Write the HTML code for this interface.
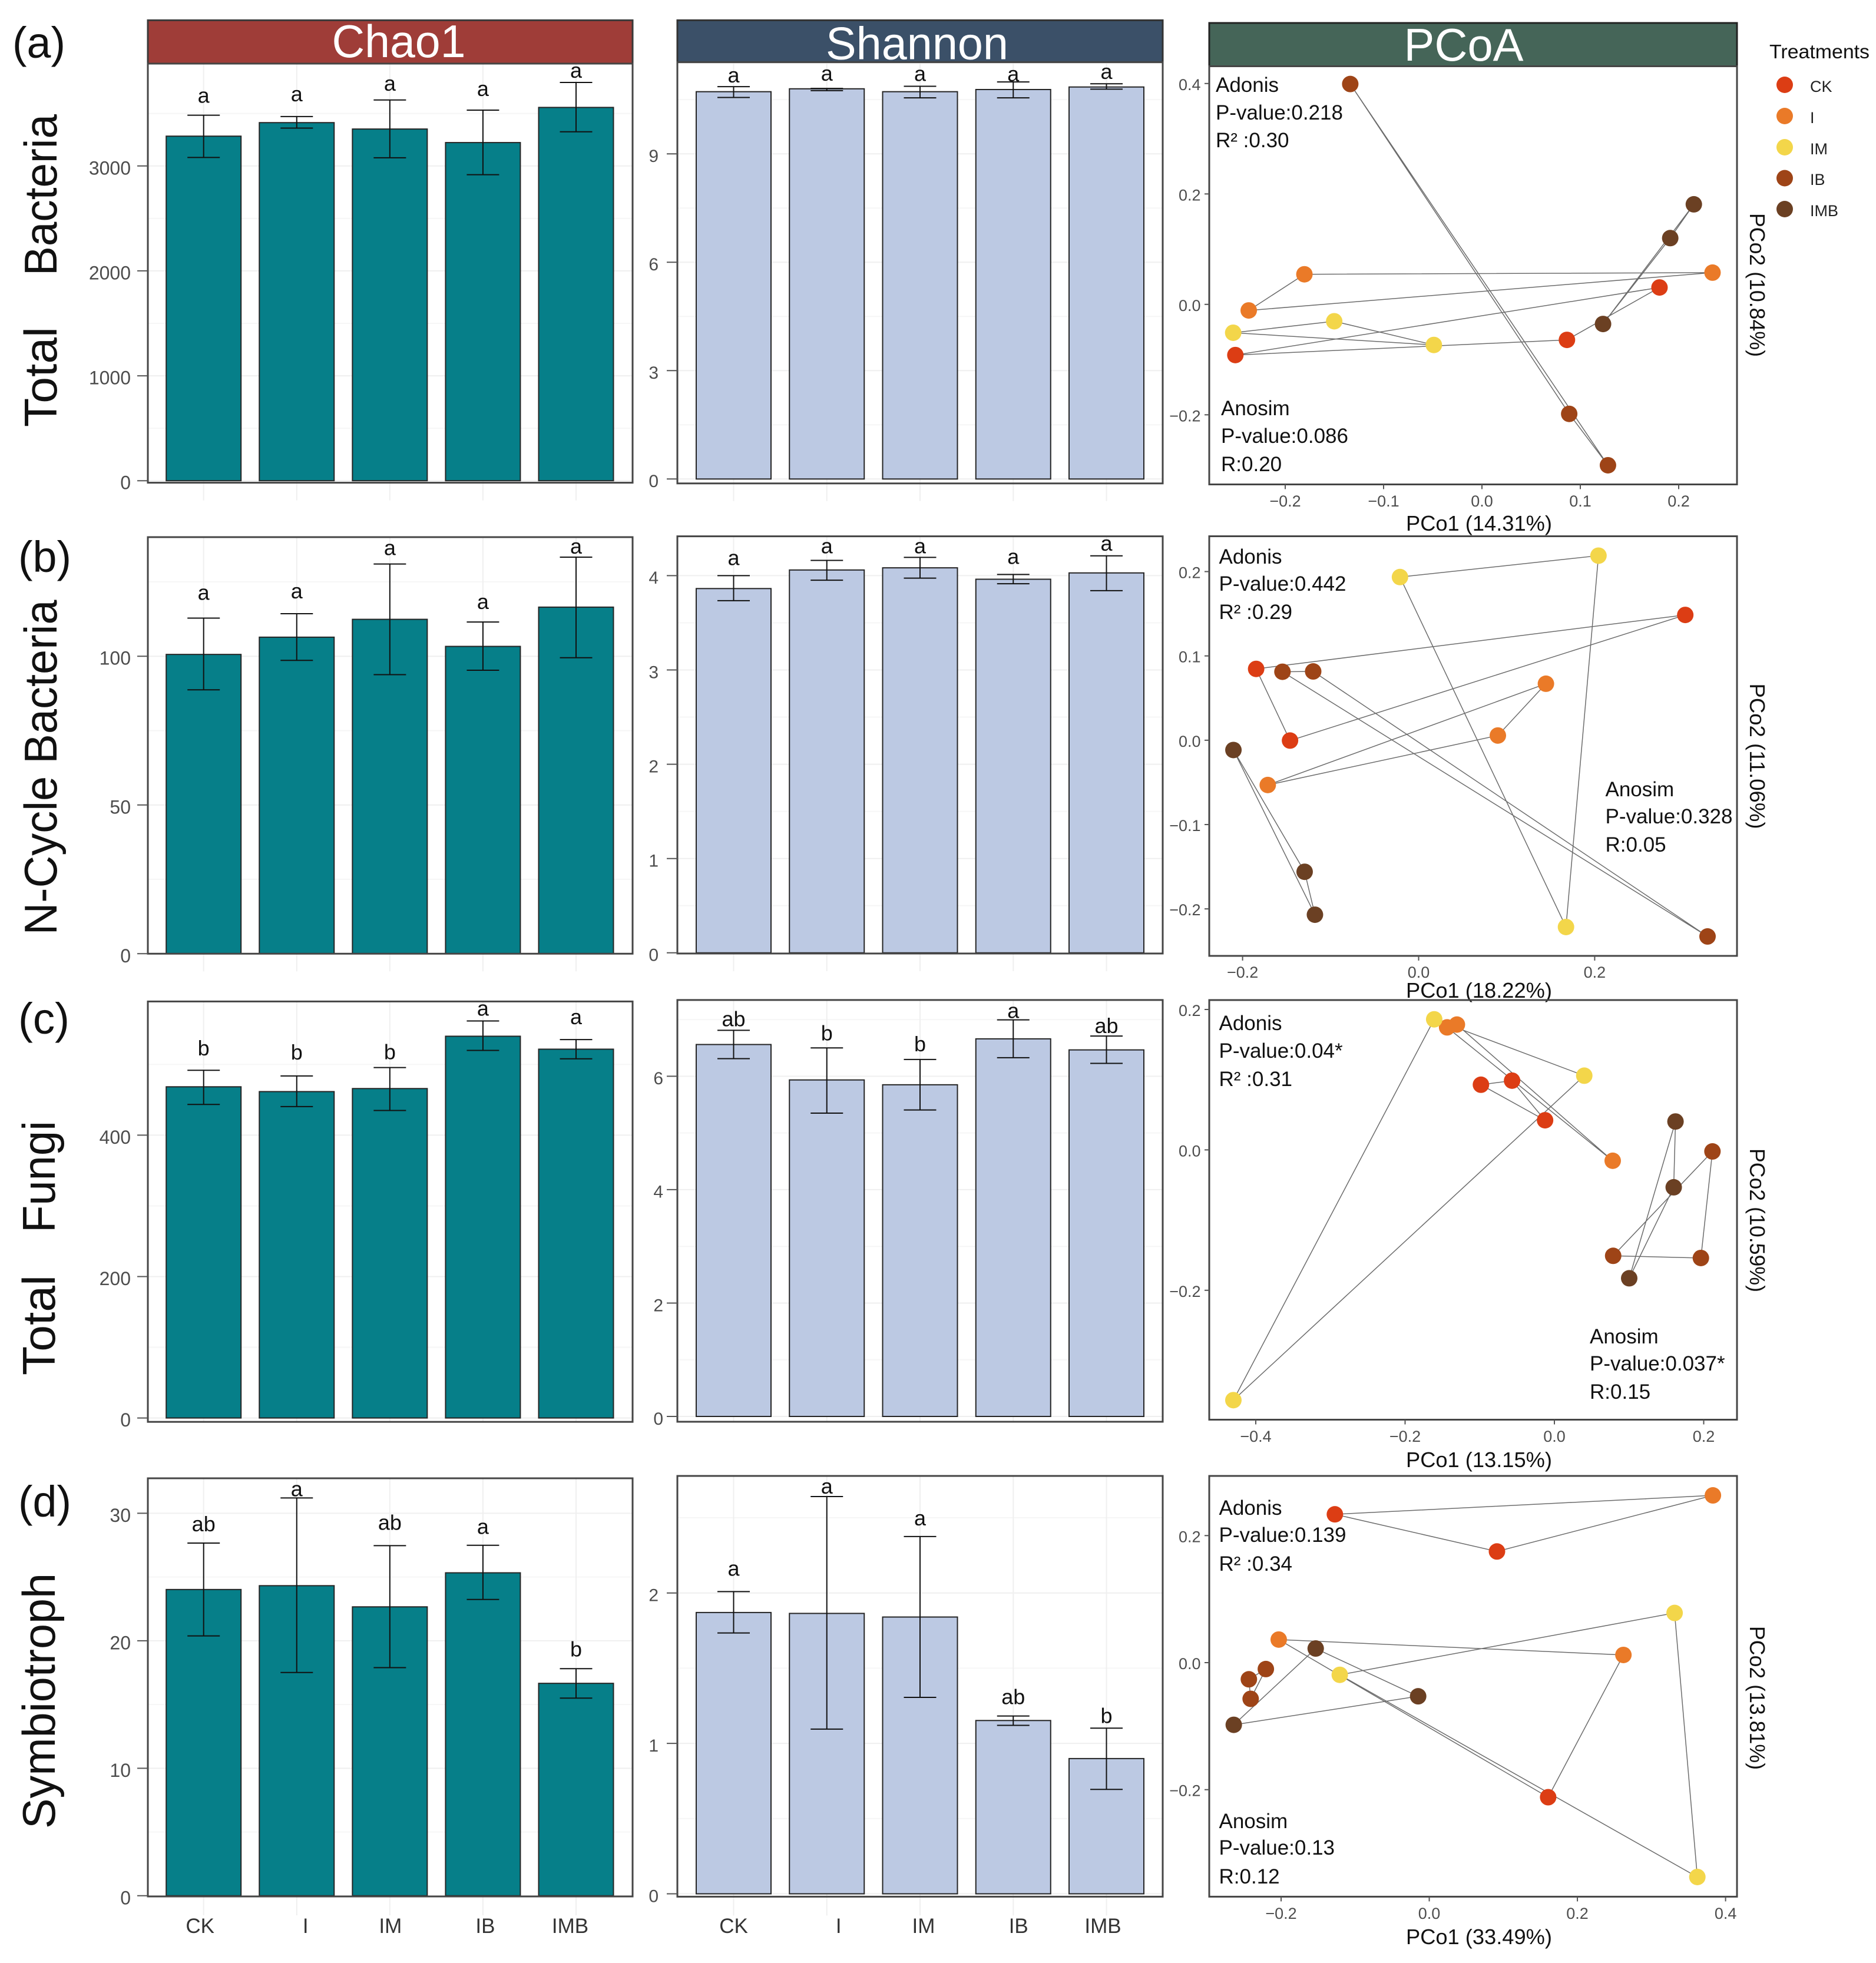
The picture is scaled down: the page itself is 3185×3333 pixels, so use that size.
<!DOCTYPE html>
<html lang="en">
<head>
<meta charset="utf-8">
<title>Chao1, Shannon and PCoA by treatment</title>
<style>
html,body{margin:0;padding:0;background:#fff;}
svg{display:block;font-family:"Liberation Sans",sans-serif;}
.row-label{font-size:78px;fill:#111;}
.tag{font-size:74px;fill:#111;}
.strip-title{font-size:78px;fill:#fff;text-anchor:middle;}
.stat{font-size:35px;fill:#111;}
.axis-title{font-size:36px;fill:#111;text-anchor:middle;}
.legend-title{font-size:33px;fill:#111;}
.legend-text{font-size:27px;fill:#222;}
</style>
</head>
<body>
<svg id="figure" xmlns="http://www.w3.org/2000/svg" width="3185" height="3333" viewBox="0 0 3185 3333">
  <rect x="0" y="0" width="3185" height="3333" fill="#ffffff"/>

  <rect x="251" y="34.4" width="823" height="73.6" fill="#9f3d38" stroke="#3a3a3a" stroke-width="3"/>
  <rect x="1150" y="34.4" width="824" height="71.2" fill="#3b5068" stroke="#333" stroke-width="3"/>
  <rect x="2053" y="39" width="896" height="73.5" fill="#456558" stroke="#222" stroke-width="3"/>
  <text class="strip-title" x="677" y="97" textLength="227" lengthAdjust="spacingAndGlyphs">Chao1</text>
  <text class="strip-title" x="1557" y="100.5" textLength="310" lengthAdjust="spacingAndGlyphs">Shannon</text>
  <text class="strip-title" x="2485" y="103" textLength="203" lengthAdjust="spacingAndGlyphs">PCoA</text>

  <text class="tag" x="21" y="98" textLength="90" lengthAdjust="spacingAndGlyphs">(a)</text>
  <text class="tag" x="31" y="971" textLength="90" lengthAdjust="spacingAndGlyphs">(b)</text>
  <text class="tag" x="31" y="1755" textLength="87" lengthAdjust="spacingAndGlyphs">(c)</text>
  <text class="tag" x="31" y="2575" textLength="90" lengthAdjust="spacingAndGlyphs">(d)</text>

  <text class="row-label" transform="translate(96 331) rotate(-90)" text-anchor="middle" textLength="274" lengthAdjust="spacingAndGlyphs">Bacteria</text>
  <text class="row-label" transform="translate(96 640) rotate(-90)" text-anchor="middle" textLength="170" lengthAdjust="spacingAndGlyphs">Total</text>
  <text class="row-label" transform="translate(96 1303) rotate(-90)" text-anchor="middle" textLength="569" lengthAdjust="spacingAndGlyphs">N-Cycle Bacteria</text>
  <text class="row-label" transform="translate(93 1998) rotate(-90)" text-anchor="middle" textLength="190" lengthAdjust="spacingAndGlyphs">Fungi</text>
  <text class="row-label" transform="translate(93 2250) rotate(-90)" text-anchor="middle" textLength="170" lengthAdjust="spacingAndGlyphs">Total</text>
  <text class="row-label" transform="translate(93 2888) rotate(-90)" text-anchor="middle" textLength="434" lengthAdjust="spacingAndGlyphs">Symbiotroph</text>

  <text class="axis-title" x="2511" y="901" textLength="248" lengthAdjust="spacingAndGlyphs">PCo1 (14.31%)</text>
  <text class="axis-title" x="2511" y="1694" textLength="248" lengthAdjust="spacingAndGlyphs">PCo1 (18.22%)</text>
  <text class="axis-title" x="2511" y="2491" textLength="248" lengthAdjust="spacingAndGlyphs">PCo1 (13.15%)</text>
  <text class="axis-title" x="2511" y="3301" textLength="248" lengthAdjust="spacingAndGlyphs">PCo1 (33.49%)</text>
  <text class="axis-title" transform="translate(2971 484) rotate(90)" textLength="244" lengthAdjust="spacingAndGlyphs">PCo2 (10.84%)</text>
  <text class="axis-title" transform="translate(2971 1284) rotate(90)" textLength="247" lengthAdjust="spacingAndGlyphs">PCo2 (11.06%)</text>
  <text class="axis-title" transform="translate(2971 2072) rotate(90)" textLength="244" lengthAdjust="spacingAndGlyphs">PCo2 (10.59%)</text>
  <text class="axis-title" transform="translate(2971 2883) rotate(90)" textLength="244" lengthAdjust="spacingAndGlyphs">PCo2 (13.81%)</text>

  <g>
    <text class="legend-title" x="3004" y="99" textLength="170" lengthAdjust="spacingAndGlyphs">Treatments</text>
    <circle cx="3030" cy="144" r="14" fill="#dc3d14"/>
    <text class="legend-text" x="3073" y="156">CK</text>
    <circle cx="3030" cy="197" r="14" fill="#ea7a28"/>
    <text class="legend-text" x="3073" y="209">I</text>
    <circle cx="3030" cy="250" r="14" fill="#f3d64a"/>
    <text class="legend-text" x="3073" y="262">IM</text>
    <circle cx="3030" cy="302.5" r="14" fill="#9e4417"/>
    <text class="legend-text" x="3073" y="314">IB</text>
    <circle cx="3030" cy="355" r="14" fill="#6b4023"/>
    <text class="legend-text" x="3073" y="367">IMB</text>
  </g>

  <g id="marks"></g>

  <g>
    <text class="stat" x="2064" y="156">Adonis</text>
    <text class="stat" x="2064" y="203">P-value:0.218</text>
    <text class="stat" x="2064" y="250">R² :0.30</text>
    <text class="stat" x="2073" y="705">Anosim</text>
    <text class="stat" x="2073" y="752">P-value:0.086</text>
    <text class="stat" x="2073" y="800">R:0.20</text>

    <text class="stat" x="2069.5" y="957">Adonis</text>
    <text class="stat" x="2069.5" y="1003">P-value:0.442</text>
    <text class="stat" x="2069.5" y="1051">R² :0.29</text>
    <text class="stat" x="2725.5" y="1352">Anosim</text>
    <text class="stat" x="2725.5" y="1398">P-value:0.328</text>
    <text class="stat" x="2725.5" y="1446">R:0.05</text>

    <text class="stat" x="2069.5" y="1749">Adonis</text>
    <text class="stat" x="2069.5" y="1796">P-value:0.04*</text>
    <text class="stat" x="2069.5" y="1844">R² :0.31</text>
    <text class="stat" x="2699" y="2281">Anosim</text>
    <text class="stat" x="2699" y="2327">P-value:0.037*</text>
    <text class="stat" x="2699" y="2375">R:0.15</text>

    <text class="stat" x="2069.5" y="2572">Adonis</text>
    <text class="stat" x="2069.5" y="2618">P-value:0.139</text>
    <text class="stat" x="2069.5" y="2667">R² :0.34</text>
    <text class="stat" x="2069.5" y="3104">Anosim</text>
    <text class="stat" x="2069.5" y="3149">P-value:0.13</text>
    <text class="stat" x="2069.5" y="3198">R:0.12</text>
  </g>
</svg>

<script>
/* ---------- shared categories ---------- */
const categories = ['CK', 'I', 'IM', 'IB', 'IMB'];

/* ---------- bar data: means, error-bar bounds, significance letters, ticks ---------- */
const bacteriaChao1Means = [3284, 3413, 3352, 3223, 3558];
const bacteriaChao1Upper = [3484, 3471, 3629, 3532, 3796];
const bacteriaChao1Lower = [3081, 3361, 3078, 2917, 3326];
const bacteriaChao1Letters = ['a', 'a', 'a', 'a', 'a'];
const bacteriaChao1Ticks = [0, 1000, 2000, 3000];

const bacteriaShannonMeans = [10.72, 10.80, 10.72, 10.78, 10.85];
const bacteriaShannonUpper = [10.86, 10.81, 10.87, 10.99, 10.94];
const bacteriaShannonLower = [10.56, 10.75, 10.55, 10.55, 10.79];
const bacteriaShannonLetters = ['a', 'a', 'a', 'a', 'a'];
const bacteriaShannonTicks = [0, 3, 6, 9];

const nCycleChao1Means = [100.6, 106.4, 112.4, 103.3, 116.5];
const nCycleChao1Upper = [112.8, 114.3, 131.0, 111.5, 133.3];
const nCycleChao1Lower = [88.7, 98.6, 93.8, 95.3, 99.5];
const nCycleChao1Letters = ['a', 'a', 'a', 'a', 'a'];
const nCycleChao1Ticks = [0, 50, 100];

const nCycleShannonMeans = [3.863, 4.06, 4.083, 3.962, 4.029];
const nCycleShannonUpper = [4.0, 4.162, 4.194, 4.013, 4.21];
const nCycleShannonLower = [3.735, 3.952, 3.974, 3.914, 3.841];
const nCycleShannonLetters = ['a', 'a', 'a', 'a', 'a'];
const nCycleShannonTicks = [0, 1, 2, 3, 4];

const fungiChao1Means = [468.4, 461.6, 465.9, 539.9, 521.6];
const fungiChao1Upper = [491.8, 483.7, 495.6, 561.5, 535.2];
const fungiChao1Lower = [443.4, 440.4, 434.9, 519.9, 508.0];
const fungiChao1Letters = ['b', 'b', 'b', 'a', 'a'];
const fungiChao1Ticks = [0, 200, 400];

const fungiShannonMeans = [6.56, 5.935, 5.85, 6.66, 6.465];
const fungiShannonUpper = [6.81, 6.50, 6.296, 6.995, 6.709];
const fungiShannonLower = [6.31, 5.35, 5.405, 6.327, 6.227];
const fungiShannonLetters = ['ab', 'b', 'b', 'a', 'ab'];
const fungiShannonTicks = [0, 2, 4, 6];

const symbioChao1Means = [24.02, 24.32, 22.66, 25.33, 16.66];
const symbioChao1Upper = [27.66, 31.2, 27.46, 27.49, 17.81];
const symbioChao1Lower = [20.38, 17.51, 17.89, 23.24, 15.5];
const symbioChao1Letters = ['ab', 'a', 'ab', 'a', 'b'];
const symbioChao1Ticks = [0, 10, 20, 30];

const symbioShannonMeans = [1.870, 1.864, 1.840, 1.152, 0.899];
const symbioShannonUpper = [2.009, 2.641, 2.375, 1.182, 1.101];
const symbioShannonLower = [1.734, 1.095, 1.306, 1.120, 0.694];
const symbioShannonLetters = ['a', 'a', 'a', 'ab', 'b'];
const symbioShannonTicks = [0, 1, 2];

/* ---------- PCoA data: three replicates per treatment ---------- */
const pcoaA_CK_pc1 = [0.0864, 0.1805, -0.2507];
const pcoaA_CK_pc2 = [-0.0643, 0.0306, -0.0918];
const pcoaA_I_pc1 = [-0.1805, 0.2344, -0.2371];
const pcoaA_I_pc2 = [0.0545, 0.0575, -0.0110];
const pcoaA_IM_pc1 = [-0.2529, -0.1502, -0.0489];
const pcoaA_IM_pc2 = [-0.0514, -0.0306, -0.0735];
const pcoaA_IB_pc1 = [-0.1339, 0.0887, 0.1281];
const pcoaA_IB_pc2 = [0.3991, -0.1983, -0.2914];
const pcoaA_IMB_pc1 = [0.2154, 0.1914, 0.1231];
const pcoaA_IMB_pc2 = [0.1812, 0.1200, -0.0355];
const pcoaAXTicks = [-0.2, -0.1, 0, 0.1, 0.2];
const pcoaAYTicks = [-0.2, 0, 0.2, 0.4];

const pcoaB_CK_pc1 = [-0.1846, 0.3029, -0.1461];
const pcoaB_CK_pc2 = [0.0846, 0.1486, -0.0004];
const pcoaB_I_pc1 = [0.1446, 0.0900, -0.1714];
const pcoaB_I_pc2 = [0.0670, 0.0056, -0.0531];
const pcoaB_IM_pc1 = [-0.0212, 0.2043, 0.1674];
const pcoaB_IM_pc2 = [0.1935, 0.2189, -0.2215];
const pcoaB_IB_pc1 = [-0.1547, -0.1198, 0.3282];
const pcoaB_IB_pc2 = [0.0812, 0.0816, -0.2327];
const pcoaB_IMB_pc1 = [-0.2104, -0.1295, -0.1178];
const pcoaB_IMB_pc2 = [-0.0116, -0.1560, -0.2069];
const pcoaBXTicks = [-0.2, 0, 0.2];
const pcoaBYTicks = [-0.2, -0.1, 0, 0.1, 0.2];

const pcoaC_CK_pc1 = [-0.0984, -0.0567, -0.0125];
const pcoaC_CK_pc2 = [0.0928, 0.0986, 0.0422];
const pcoaC_I_pc1 = [-0.1437, -0.1306, 0.0781];
const pcoaC_I_pc2 = [0.1745, 0.1785, -0.0155];
const pcoaC_IM_pc1 = [-0.1610, 0.0400, -0.4300];
const pcoaC_IM_pc2 = [0.1860, 0.1057, -0.3565];
const pcoaC_IB_pc1 = [0.0787, 0.1962, 0.2117];
const pcoaC_IB_pc2 = [-0.1509, -0.1540, -0.0022];
const pcoaC_IMB_pc1 = [0.1622, 0.1598, 0.1002];
const pcoaC_IMB_pc2 = [0.0404, -0.0533, -0.1829];
const pcoaCXTicks = [-0.4, -0.2, 0, 0.2];
const pcoaCYTicks = [-0.2, 0, 0.2];

const pcoaD_CK_pc1 = [-0.1274, 0.0914, 0.3829];
const pcoaD_CK_pc2 = [0.2335, 0.1750, 0.2633];
const pcoaD_CK_kinds = ['CK', 'CK', 'I'];
const pcoaD_I_pc1 = [-0.2032, 0.2621, 0.1605];
const pcoaD_I_pc2 = [0.0363, 0.0121, -0.2119];
const pcoaD_I_kinds = ['I', 'I', 'CK'];
const pcoaD_IM_pc1 = [0.3312, -0.1208, 0.3619];
const pcoaD_IM_pc2 = [0.0782, -0.0192, -0.3375];
const pcoaD_IB_pc1 = [-0.2206, -0.2435, -0.2411];
const pcoaD_IB_pc2 = [-0.0101, -0.0262, -0.0570];
const pcoaD_IMB_pc1 = [-0.1533, -0.0150, -0.2639];
const pcoaD_IMB_pc2 = [0.0222, -0.0530, -0.0979];
const pcoaDXTicks = [-0.2, 0, 0.2, 0.4];
const pcoaDYTicks = [-0.2, 0, 0.2];

/* ---------- styling ---------- */
const treatmentColors = { CK: '#dc3d14', I: '#ea7a28', IM: '#f3d64a', IB: '#9e4417', IMB: '#6b4023' };
const tealFill = '#067f89';
const blueFill = '#bcc9e3';
const FRAME_COLOR = '#454545';
const CAP_HALF = 27.5;
const BAR_WIDTH = 127;

/* ---------- panel layout ---------- */
const col1 = { x0: 251, x1: 1074, first: 345.7, last: 978, fill: tealFill, tickFont: 32, tickEnd: 222, tickLen: 18, nudges: { CK: -6, I: 15, IM: 1, IB: 4, IMB: -10 } };
const col2 = { x0: 1150, x1: 1974, first: 1245.5, last: 1878.5, fill: blueFill, tickFont: 30, tickEnd: 1118, tickLen: 18, nudges: { CK: 0, I: 20, IM: 6, IB: 9, IMB: -6 } };

const barPanels = [
  { name: 'bacteria-chao1', col: col1, top: 108, bottom: 819.6, p0: 816.2, v1: 3000, p1: 281.8, ext: 30, means: bacteriaChao1Means, upper: bacteriaChao1Upper, lower: bacteriaChao1Lower, letters: bacteriaChao1Letters, ticks: bacteriaChao1Ticks, gaps: [31, 36, 26, 34, 18] },
  { name: 'bacteria-shannon', col: col2, top: 105.6, bottom: 820.8, p0: 813.3, v1: 9, p1: 261.2, ext: 30, means: bacteriaShannonMeans, upper: bacteriaShannonUpper, lower: bacteriaShannonLower, letters: bacteriaShannonLetters, ticks: bacteriaShannonTicks, gaps: [17, 23, 19, 11, 18] },
  { name: 'ncycle-chao1', col: col1, top: 912, bottom: 1619.3, p0: 1619.3, v1: 100, p1: 1114.2, ext: 30, means: nCycleChao1Means, upper: nCycleChao1Upper, lower: nCycleChao1Lower, letters: nCycleChao1Letters, ticks: nCycleChao1Ticks, gaps: [41, 36, 25, 32, 16] },
  { name: 'ncycle-shannon', col: col2, top: 910.6, bottom: 1619, p0: 1617.8, v1: 4, p1: 977.4, ext: 30, means: nCycleShannonMeans, upper: nCycleShannonUpper, lower: nCycleShannonLower, letters: nCycleShannonLetters, ticks: nCycleShannonTicks, gaps: [28, 22, 17, 28, 19] },
  { name: 'fungi-chao1', col: col1, top: 1700.4, bottom: 2414.2, p0: 2407.6, v1: 400, p1: 1927.4, ext: 0, means: fungiChao1Means, upper: fungiChao1Upper, lower: fungiChao1Lower, letters: fungiChao1Letters, ticks: fungiChao1Ticks, gaps: [38, 41, 27, 19, 36] },
  { name: 'fungi-shannon', col: col2, top: 1697.9, bottom: 2414, p0: 2405, v1: 6, p1: 1827.4, ext: 0, tickEnd: 1126, means: fungiShannonMeans, upper: fungiShannonUpper, lower: fungiShannonLower, letters: fungiShannonLetters, ticks: fungiShannonTicks, gaps: [20, 26, 27, 13, 18] },
  { name: 'symbiotroph-chao1', col: col1, top: 2510, bottom: 3220, p0: 3218.8, v1: 30, p1: 2569.4, ext: 32, showCats: true, means: symbioChao1Means, upper: symbioChao1Upper, lower: symbioChao1Lower, letters: symbioChao1Letters, ticks: symbioChao1Ticks, gaps: [33, 13, 40, 29, 34] },
  { name: 'symbiotroph-shannon', col: col2, top: 2506, bottom: 3220.4, p0: 3215.5, v1: 2, p1: 2704.7, ext: 32, showCats: true, means: symbioShannonMeans, upper: symbioShannonUpper, lower: symbioShannonLower, letters: symbioShannonLetters, ticks: symbioShannonTicks, gaps: [37, 15, 29, 33, 22] }
];

const pcoaFrame = { x0: 2053, x1: 2949 };
const pcoaPanels = [
  { name: 'pcoa-a', top: 112.5, bottom: 822.5, xa: [-0.2, 2182, 0.2, 2850], ya: [-0.2, 704.3, 0.4, 141.8], xLabelY: 860, xTicks: pcoaAXTicks, yTicks: pcoaAYTicks,
    groups: { CK: [pcoaA_CK_pc1, pcoaA_CK_pc2], I: [pcoaA_I_pc1, pcoaA_I_pc2], IM: [pcoaA_IM_pc1, pcoaA_IM_pc2], IB: [pcoaA_IB_pc1, pcoaA_IB_pc2], IMB: [pcoaA_IMB_pc1, pcoaA_IMB_pc2] }, kinds: {} },
  { name: 'pcoa-b', top: 910.5, bottom: 1623, xa: [-0.2, 2109.6, 0.2, 2707.4], ya: [-0.2, 1543.2, 0.2, 970.5], xLabelY: 1660, xTicks: pcoaBXTicks, yTicks: pcoaBYTicks,
    groups: { CK: [pcoaB_CK_pc1, pcoaB_CK_pc2], I: [pcoaB_I_pc1, pcoaB_I_pc2], IM: [pcoaB_IM_pc1, pcoaB_IM_pc2], IB: [pcoaB_IB_pc1, pcoaB_IB_pc2], IMB: [pcoaB_IMB_pc1, pcoaB_IMB_pc2] }, kinds: {} },
  { name: 'pcoa-c', top: 1698, bottom: 2410.5, xa: [-0.4, 2132, 0.2, 2892.5], ya: [-0.2, 2190.8, 0.2, 1714], xLabelY: 2448, xTicks: pcoaCXTicks, yTicks: pcoaCYTicks,
    groups: { CK: [pcoaC_CK_pc1, pcoaC_CK_pc2], I: [pcoaC_I_pc1, pcoaC_I_pc2], IM: [pcoaC_IM_pc1, pcoaC_IM_pc2], IB: [pcoaC_IB_pc1, pcoaC_IB_pc2], IMB: [pcoaC_IMB_pc1, pcoaC_IMB_pc2] }, kinds: {} },
  { name: 'pcoa-d', top: 2506, bottom: 3220.4, xa: [-0.2, 2175, 0.4, 2929.6], ya: [-0.2, 3038.7, 0.2, 2607.3], xLabelY: 3258, xTicks: pcoaDXTicks, yTicks: pcoaDYTicks,
    groups: { CK: [pcoaD_CK_pc1, pcoaD_CK_pc2], I: [pcoaD_I_pc1, pcoaD_I_pc2], IM: [pcoaD_IM_pc1, pcoaD_IM_pc2], IB: [pcoaD_IB_pc1, pcoaD_IB_pc2], IMB: [pcoaD_IMB_pc1, pcoaD_IMB_pc2] }, kinds: { CK: pcoaD_CK_kinds, I: pcoaD_I_kinds } }
];

/* ---------- helpers ---------- */
const SVGNS = 'http://www.w3.org/2000/svg';
const marksRoot = document.getElementById('marks');

function make(tag, attrs, parent) {
  const node = document.createElementNS(SVGNS, tag);
  for (const key in attrs) node.setAttribute(key, attrs[key]);
  parent.appendChild(node);
  return node;
}
function linearScale(v0, p0, v1, p1) {
  const k = (p1 - p0) / (v1 - v0);
  return function (v) { return p0 + (v - v0) * k; };
}
function fmtTick(v) {
  const s = Math.abs(v).toFixed(1);
  return v < -1e-9 ? '\u2212' + s : s;
}

/* ---------- bar panels ---------- */
function drawBarPanel(p) {
  const col = p.col;
  const y = linearScale(0, p.p0, p.v1, p.p1);
  const step = (col.last - col.first) / (categories.length - 1);
  const xCenter = function (i) { return col.first + i * step; };
  const width = col.x1 - col.x0;

  const panel = make('g', {}, marksRoot);
  
  

  /* gridlines: major at ticks, minor halfway between */
  const tickStep = p.ticks[1] - p.ticks[0];
  for (let k = -1; k <= p.ticks.length * 2 + 2; k++) {
    const v = k * tickStep / 2;
    const py = y(v);
    if (py < p.top || py > p.bottom) continue;
    const grid = make('line', { x1: col.x0, x2: col.x1, y1: py, y2: py, stroke: k % 2 === 0 ? '#efefef' : '#f6f6f6', 'stroke-width': 2 }, panel);
    
    
  }
  categories.forEach(function (cat, i) {
    const grid = make('line', { x1: xCenter(i), x2: xCenter(i), y1: p.top, y2: p.bottom + p.ext, stroke: '#efefef', 'stroke-width': 2 }, panel);
    
    
  });

  /* bars */
  categories.forEach(function (cat, i) {
    const top = y(p.means[i]);
    const bar = make('rect', { x: xCenter(i) - BAR_WIDTH / 2, y: top, width: BAR_WIDTH, height: y(0) - top, fill: col.fill, stroke: '#252525', 'stroke-width': 2 }, panel);
    
    
  });

  /* error bars and significance letters */
  categories.forEach(function (cat, i) {
    const cx = xCenter(i);
    const up = y(p.upper[i]);
    const lo = y(p.lower[i]);
    const stem = make('line', { x1: cx, x2: cx, y1: up, y2: lo, stroke: '#111', 'stroke-width': 2 }, panel);
    
    
    const capUp = make('line', { x1: cx - CAP_HALF, x2: cx + CAP_HALF, y1: up, y2: up, stroke: '#111', 'stroke-width': 2 }, panel);
    
    
    const capLo = make('line', { x1: cx - CAP_HALF, x2: cx + CAP_HALF, y1: lo, y2: lo, stroke: '#111', 'stroke-width': 2 }, panel);
    
    

    const letter = p.letters[i];
    const baseShift = letter.indexOf('b') >= 0 ? 13 : 10;
    const txt = make('text', { x: cx, y: up - p.gaps[i] + baseShift, 'text-anchor': 'middle', 'font-size': 36, fill: '#111' }, panel);
    txt.textContent = letter;
    
    
  });

  /* frame */
  const frame = make('rect', { x: col.x0, y: p.top, width: width, height: p.bottom - p.top, fill: 'none', stroke: FRAME_COLOR, 'stroke-width': 3 }, panel);
  
  

  /* y ticks */
  p.ticks.forEach(function (v) {
    const py = y(v);
    const tick = make('line', { x1: col.x0 - col.tickLen, x2: col.x0, y1: py, y2: py, stroke: '#555', 'stroke-width': 2 }, panel);
    
    
    const label = make('text', { x: p.tickEnd || col.tickEnd, y: py + col.tickFont * 0.36 + 3, 'text-anchor': 'end', 'font-size': col.tickFont, fill: '#4d4d4d' }, panel);
    label.textContent = String(v);
    
    
  });

  /* category labels on the last row */
  if (p.showCats) {
    categories.forEach(function (cat, i) {
      const label = make('text', { x: xCenter(i) + col.nudges[cat], y: 3282, 'text-anchor': 'middle', 'font-size': 35, fill: '#333' }, panel);
      label.textContent = cat;
      
      
    });
  }
}

/* ---------- PCoA panels ---------- */
function drawPcoaPanel(p) {
  const x = linearScale(p.xa[0], p.xa[1], p.xa[2], p.xa[3]);
  const y = linearScale(p.ya[0], p.ya[1], p.ya[2], p.ya[3]);

  const panel = make('g', {}, marksRoot);
  
  

  const names = Object.keys(p.groups);
  names.forEach(function (group) {
    const pc1 = p.groups[group][0];
    const pc2 = p.groups[group][1];
    const pts = pc1.map(function (v, i) { return x(v) + ',' + y(pc2[i]); }).join(' ');
    const hull = make('polygon', { points: pts, fill: 'none', stroke: '#6c6c6c', 'stroke-width': 1.5 }, panel);
    
    
  });
  names.forEach(function (group) {
    const pc1 = p.groups[group][0];
    const pc2 = p.groups[group][1];
    const kinds = p.kinds[group];
    pc1.forEach(function (v, i) {
      const kind = kinds ? kinds[i] : group;
      const dot = make('circle', { cx: x(v), cy: y(pc2[i]), r: 14, fill: treatmentColors[kind] }, panel);
      
      
    });
  });

  const frame = make('rect', { x: pcoaFrame.x0, y: p.top, width: pcoaFrame.x1 - pcoaFrame.x0, height: p.bottom - p.top, fill: 'none', stroke: FRAME_COLOR, 'stroke-width': 3 }, panel);
  
  

  p.xTicks.forEach(function (v) {
    const px = x(v);
    const tick = make('line', { x1: px, x2: px, y1: p.bottom, y2: p.bottom + 8, stroke: '#555', 'stroke-width': 2 }, panel);
    
    
    const label = make('text', { x: px, y: p.xLabelY, 'text-anchor': 'middle', 'font-size': 27, fill: '#4d4d4d' }, panel);
    label.textContent = fmtTick(v);
    
    
  });
  p.yTicks.forEach(function (v) {
    const py = y(v);
    const tick = make('line', { x1: pcoaFrame.x0 - 8, x2: pcoaFrame.x0, y1: py, y2: py, stroke: '#555', 'stroke-width': 2 }, panel);
    
    
    const label = make('text', { x: 2038.5, y: py + 11, 'text-anchor': 'end', 'font-size': 27, fill: '#4d4d4d' }, panel);
    label.textContent = fmtTick(v);
    
    
  });
}

barPanels.forEach(drawBarPanel);
pcoaPanels.forEach(drawPcoaPanel);
</script>
</body>
</html>
